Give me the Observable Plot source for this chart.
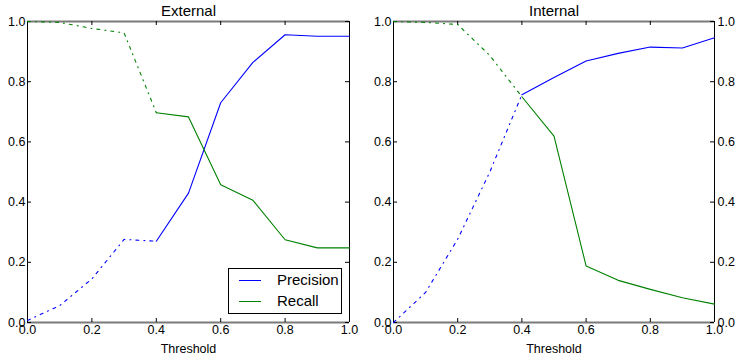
<!DOCTYPE html>
<html><head><meta charset="utf-8">
<script src="https://cdn.jsdelivr.net/npm/d3@7"></script>
<script src="https://cdn.jsdelivr.net/npm/@observablehq/plot@0.6"></script>
<style>
body{margin:0;background:#fff;}
#wrap{position:relative;width:737px;height:360px;font-family:"Liberation Sans",Arial,sans-serif;}
.panel{position:absolute;top:0;}
.legend{position:absolute;left:228px;top:268px;width:114px;height:46px;box-sizing:border-box;border:1px solid #000;background:#fff;font-size:15px;}
.legend .sw{position:absolute;left:10px;width:22px;height:0;border-top:1px solid;}
.legend .lb{position:absolute;left:48px;line-height:18px;}
</style></head><body><div id="wrap"></div>
<script>
const thresholds = [0, 0.1, 0.2, 0.3, 0.4, 0.5, 0.6, 0.7, 0.8, 0.9, 1.0];
const extPrecision = [0.007, 0.056, 0.145, 0.276, 0.27, 0.43, 0.73, 0.864, 0.956, 0.951, 0.951];
const extRecall = [1.0, 0.997, 0.977, 0.962, 0.697, 0.683, 0.458, 0.406, 0.275, 0.248, 0.248];
const intPrecision = [0.0, 0.10, 0.277, 0.50, 0.757, 0.814, 0.869, 0.894, 0.915, 0.912, 0.946];
const intRecall = [1.0, 0.997, 0.99, 0.887, 0.75, 0.619, 0.188, 0.14, 0.11, 0.082, 0.061];
const tickValues = [0, 0.2, 0.4, 0.6, 0.8, 1.0];
const seriesNames = ["Precision", "Recall"];
const seriesColors = ["#0000ff", "#008000"];
const titles = ["External", "Internal"];
const dashStart = 0.4;

const font = '"Liberation Sans", Arial, sans-serif';
const fmt = d3.format(".1f");
const H = 360, MT = 21, MB = 38;

function panel({title, precision, recall, width, marginLeft, marginRight, rightAxis}) {
  const rows = thresholds.map((t, i) => ({t, p: precision[i], r: recall[i]}));
  const pw = width - marginLeft - marginRight;
  const ph = H - MT - MB;
  const series = [["p", seriesColors[0]], ["r", seriesColors[1]]];
  const marks = [
    Plot.ruleY([0, 1], {stroke: "#7a7a7a", strokeWidth: 2}),
    Plot.ruleX([0, 1], {stroke: "#000", strokeWidth: 1}),
    Plot.ruleX(tickValues, {insetTop: ph - 4, stroke: "#000"}),
    Plot.ruleX(tickValues, {insetBottom: ph - 4, stroke: "#000"}),
    Plot.ruleY(tickValues, {insetRight: pw - 4, stroke: "#000"}),
    Plot.ruleY(tickValues, {insetLeft: pw - 4, stroke: "#000"}),
    Plot.axisX(tickValues, {tickSize: 0, tickPadding: 3, tickFormat: fmt, fontSize: 12.5, label: null}),
    Plot.axisY(tickValues, {anchor: "left", tickSize: 0, tickPadding: 2, tickFormat: fmt, fontSize: 12.5, label: null}),
    Plot.text([title], {frameAnchor: "top", dy: -10, lineAnchor: "middle", fontSize: 15, fill: "#000"}),
    Plot.text(["Threshold"], {frameAnchor: "bottom", dy: 26, lineAnchor: "middle", fontSize: 12.5, fill: "#000"})
  ];
  if (rightAxis) marks.push(Plot.axisY(tickValues, {anchor: "right", tickSize: 0, tickPadding: 3, tickFormat: fmt, fontSize: 12.5, label: null}));
  for (const [k, c] of series) {
    marks.push(Plot.line(rows, {x: "t", y: k, filter: d => d.t <= dashStart + 1e-9, stroke: c, strokeWidth: 1.1, strokeDasharray: "3,5,1,5"}));
    marks.push(Plot.line(rows, {x: "t", y: k, filter: d => d.t >= dashStart - 1e-9, stroke: c, strokeWidth: 1.1}));
  }
  return Plot.plot({
    width, height: H, marginTop: MT, marginBottom: MB, marginLeft, marginRight,
    x: {domain: [0, 1]}, y: {domain: [0, 1]},
    style: {fontFamily: font, color: "#000", background: "transparent", overflow: "visible"},
    marks
  });
}

const wrap = document.getElementById("wrap");
const p1 = panel({title: titles[0], precision: extPrecision, recall: extRecall, width: 370, marginLeft: 27, marginRight: 21, rightAxis: false});
const d1 = document.createElement("div"); d1.className = "panel"; d1.style.left = "0px"; d1.appendChild(p1); wrap.appendChild(d1);
const p2 = panel({title: titles[1], precision: intPrecision, recall: intRecall, width: 367, marginLeft: 23, marginRight: 23, rightAxis: true});
const d2 = document.createElement("div"); d2.className = "panel"; d2.style.left = "370px"; d2.appendChild(p2); wrap.appendChild(d2);

const lg = document.createElement("div"); lg.className = "legend";
seriesNames.forEach((n, i) => {
  const sw = document.createElement("div"); sw.className = "sw"; sw.style.top = (11 + i * 21) + "px"; sw.style.borderColor = seriesColors[i]; lg.appendChild(sw);
  const lb = document.createElement("div"); lb.className = "lb"; lb.style.top = (2 + i * 21) + "px"; lb.textContent = n; lg.appendChild(lb);
});
wrap.appendChild(lg);
</script></body></html>
